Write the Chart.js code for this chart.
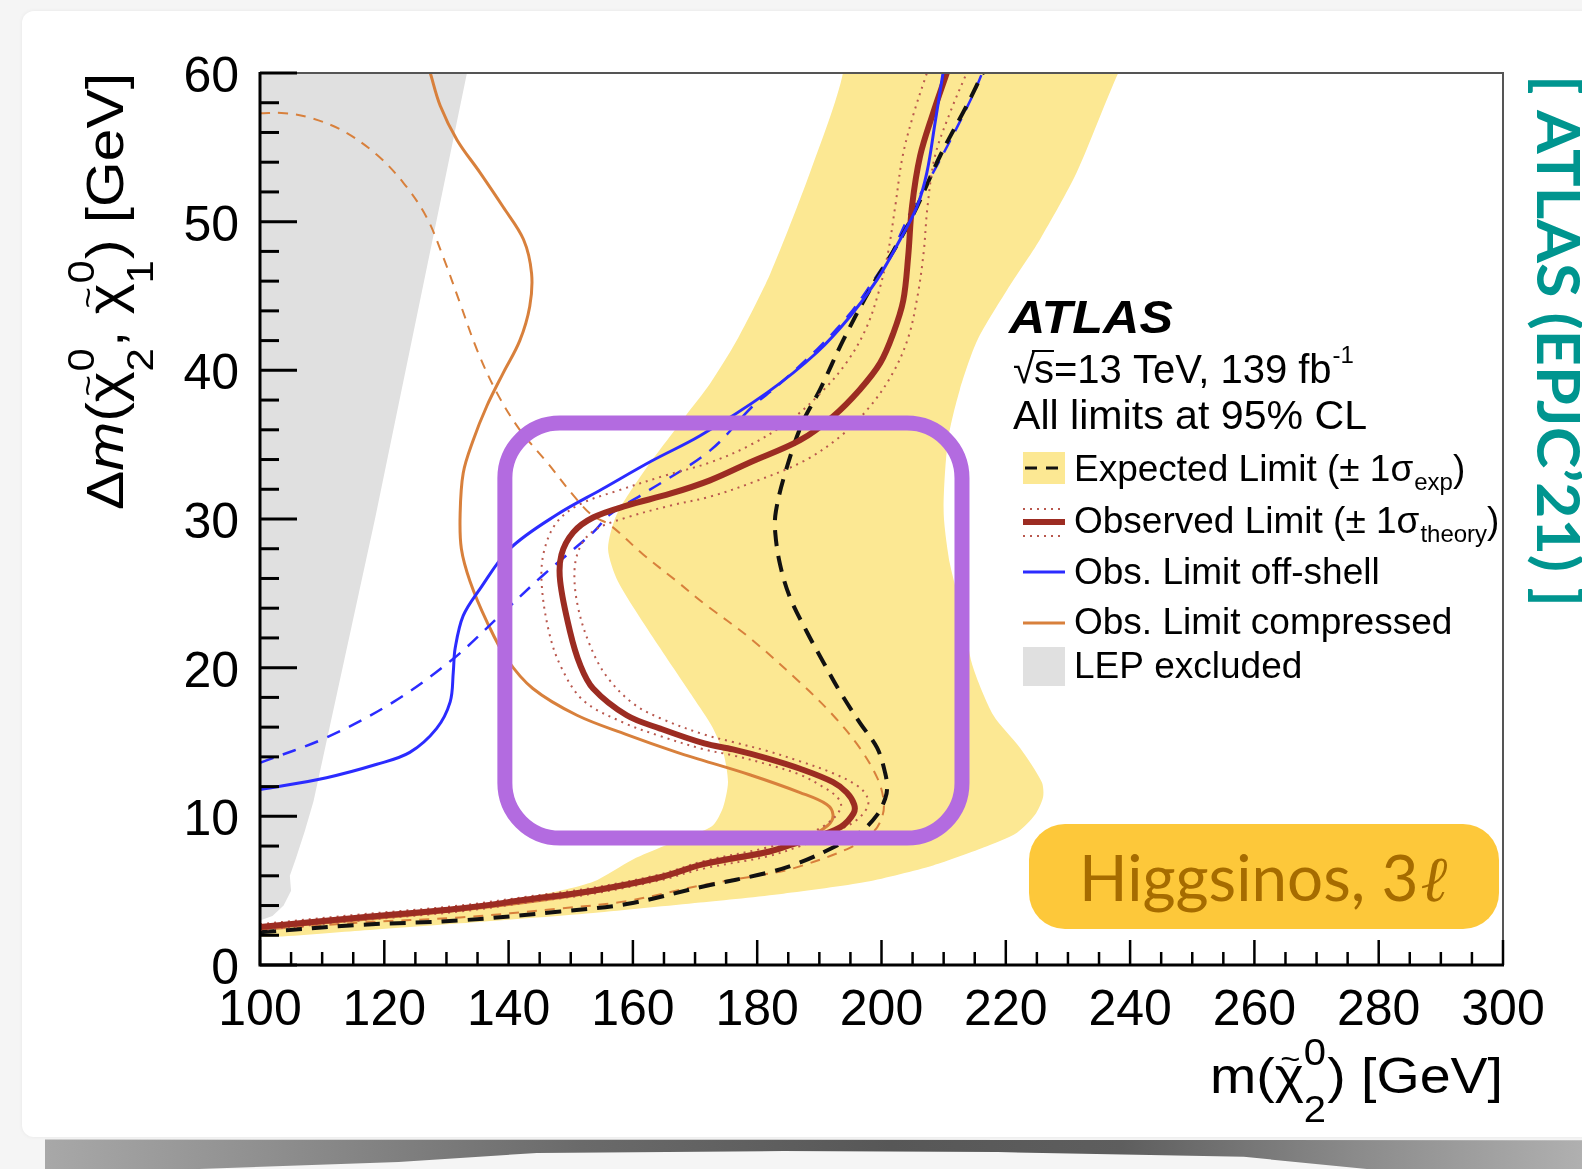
<!DOCTYPE html>
<html><head><meta charset="utf-8">
<script src="https://cdn.jsdelivr.net/npm/chart.js@4.4.1/dist/chart.umd.min.js"></script>
<style>
html,body{margin:0;padding:0;}
body{width:1582px;height:1169px;overflow:hidden;background:#f5f5f5;position:relative;}
#card{position:absolute;left:22px;top:11px;width:1562px;height:1126px;background:#fff;border-radius:12px 0 0 12px;box-shadow:0 0 4px rgba(0,0,0,0.06);}
#shade{position:absolute;left:45px;top:1137px;width:1537px;height:32px;
 background:linear-gradient(to right,#a8a8a8 0%,#8e8e8e 15%,#6a6a6a 35%,#575757 55%,#5e5e5e 70%,#8a8a8a 85%,#b0b0b0 100%);
 clip-path:polygon(0 8%,100% 10%,100% 100%,86% 100%,78% 62%,62% 47%,48% 44%,32% 50%,23% 78%,10% 100%,0 100%);filter:blur(0.7px);}
#c{position:absolute;left:0;top:0;}
</style></head><body>
<div id="card"></div><div id="shade"></div>
<canvas id="c" width="1582" height="1169"></canvas>
<script>
// ---------- data ----------
const xTicks = [100,120,140,160,180,200,220,240,260,280,300];
const yTicks = [0,10,20,30,40,50,60];

// LEP excluded region (polygon)
const lepX = [100,133.3,118.5,108.6,107.2,105.8,104.8,105.0,103.8,102.0,100.0];
const lepY = [60,60,30,11.0,9.0,7.2,6.0,5.0,4.0,3.3,3.0];

// Expected +-1 sigma band (closed polygon)
const bandX = [192.0,193.8,188.5,182.1,176.7,172.4,168.4,161.6,157.4,156.0,157.6,164.4,169.7,172.8,174.6,175.3,174.5,172.9,170.0,165.0,160.0,153.6,145.0,135.0,120.0,100.0,
               100.0,116.0,132.2,153.6,170.8,184.2,197.6,208.3,216.4,221.8,224.7,226.0,225.8,222.3,218.0,214.6,213.1,211.0,210.0,210.7,212.6,215.4,220.2,225.5,231.4,238.1,240.0];
const bandY = [61.0,60.0,53.3,46.5,42.0,39.1,36.9,33.1,30.3,28.0,25.8,21.3,18.0,16.0,14.2,12.3,10.6,9.4,8.8,8.0,7.1,5.6,4.7,4.0,3.3,2.6,
               1.9,2.3,2.8,3.5,4.2,4.8,5.6,6.7,7.9,8.9,10.1,11.3,12.3,14.6,16.8,20.2,23.5,27.0,30.5,35.3,38.7,42.0,45.4,48.8,53.3,60.0,61.0];

// Expected limit (black dashed)
const expX = [100,116.1,132.2,148.3,159.0,171.5,181.6,186.9,192.2,196.5,199.3,200.6,200.9,200.6,199.3,196.5,193.3,190.6,188.0,185.3,183.7,182.9,183.0,184.5,187.2,190.1,193.8,198.1,203.0,205.7,209.4,213.7,216.3];
const expY = [2.2,2.7,3.0,3.6,4.1,5.3,6.2,6.9,7.9,8.9,10.1,11.2,11.9,12.9,14.6,16.3,18.4,20.4,22.4,24.7,26.9,29.1,30.5,33.1,36.4,38.7,42.0,45.4,48.8,51.0,54.4,57.8,60.0];

// Observed limit (dark red)
const obsX = [100,116.1,132.2,143.0,153.6,164.4,171.5,181.6,185.5,190.0,193.5,195.5,195.6,194.4,192.2,186.9,181.6,176.1,171.5,164.4,159.0,153.6,151.5,149.9,148.3,148.5,150.4,153.6,159.0,166.0,172.4,178.8,186.9,192.2,196.5,199.8,201.9,203.5,204.3,204.9,206.2,208.3,210.5];
const obsY = [2.55,3.2,3.8,4.4,5.0,5.9,6.8,7.6,8.1,8.7,9.3,10.2,10.8,11.6,12.3,13.2,13.9,14.5,14.9,15.9,16.8,18.6,20.2,22.4,25.8,27.6,29.1,30.1,30.9,31.7,32.6,33.8,35.3,36.9,38.7,40.5,42.5,44.7,47.7,51.0,54.4,57.3,60.0];

// Observed +-1 sigma theory (dotted)
const obsInX = [100,116.1,132.2,143.0,153.6,164.4,171.5,181.6,186.9,190.5,192.8,193.5,192.6,190.5,186.9,181.6,176.1,171.5,164.4,158.5,152.0,148.5,146.5,145.3,145.8,147.8,151.5,157.5,165.0,172.4,179.0,185.5,190.5,194.5,197.5,199.5,201.0,202.2,203.4,205.2,207.3];
const obsInY = [2.75,3.4,4.0,4.6,5.2,6.1,7.0,7.9,8.6,9.3,10.1,10.8,11.4,12.0,12.8,13.5,14.1,14.5,15.4,16.3,17.8,20.0,22.4,25.8,28.0,29.8,31.0,31.9,32.9,33.8,35.0,36.7,38.6,40.6,42.8,45.2,47.8,51.0,54.4,57.3,60.0];
const obsOutX = [100,116.1,132.2,143.0,153.6,164.4,171.5,181.6,186.9,191.5,195.5,197.6,197.8,196.3,192.2,186.9,181.6,176.1,171.5,164.4,160.0,155.8,153.2,151.2,150.6,151.6,154.0,159.0,166.0,172.4,179.5,187.5,193.5,198.2,201.8,204.3,205.8,206.8,207.4,208.6,211.0,213.7];
const obsOutY = [2.35,3.0,3.6,4.2,4.8,5.7,6.5,7.3,8.0,8.8,9.6,10.5,11.2,12.0,12.9,13.7,14.4,15.0,15.5,16.6,17.6,19.4,21.4,24.0,26.5,28.2,29.3,30.1,30.9,31.5,32.5,33.9,35.6,37.6,39.8,42.2,45.0,48.0,51.0,54.4,57.3,60.0];

// Obs. limit off-shell (blue solid) and its expected (blue dashed)
const offX = [100,110.7,118.8,124.1,128.4,130.6,131.1,131.4,132.7,135.4,140.2,147.8,155.0,163.0,170.8,181.6,189.6,194.9,199.3,203.0,205.7,207.3,208.6,209.9];
const offY = [11.8,12.6,13.5,14.3,15.9,17.7,19.7,21.3,23.5,25.3,28.0,30.3,32.0,33.9,35.6,38.5,41.2,43.6,46.1,48.8,51.0,53.3,56.6,60.0];
const offExpX = [100,110.7,121.5,131.1,138.6,145.5,153.6,156.3,161.7,172.4,179.3,183.1,189.6,194.9,199.3,201.4,205.1,208.3,211.6,214.8,216.2];
const offExpY = [13.6,15.3,17.7,20.6,23.5,26.2,29.1,30.3,31.7,34.6,37.6,38.9,41.4,43.8,46.4,47.7,51.0,53.3,55.9,58.6,60.0];

// Obs. limit compressed (orange solid) and its expected (orange dashed)
const compX = [127.4,129.0,131.7,135.4,139.1,142.4,143.7,143.4,141.8,139.1,136.5,134.3,132.7,132.2,132.4,133.8,136.5,139.7,143.9,151.0,159.0,167.1,171.0,178.8,186.9,191.2,192.2,191.4,187.0,181.6,171.5,153.6,132.2,100.0];
const compY = [60.0,57.8,55.5,53.3,51.0,48.8,46.5,44.3,42.0,39.8,37.6,35.3,33.1,30.3,28.0,25.8,23.1,20.6,18.6,16.8,15.5,14.3,13.8,12.8,11.6,10.8,10.1,9.4,8.3,7.5,6.7,4.9,3.7,2.45];
const compExpX = [100,104.0,108.0,113.4,118.8,123.1,126.8,129.5,132.2,134.9,138.1,141.8,146.2,151.0,153.6,156.3,161.7,167.1,171.5,178.8,186.9,192.2,196.5,199.3,200.3,200.2,198.8,195.0,185.8,180.5,171.5,159.0,148.3,132.2,116.1,100.0];
const compExpY = [57.3,57.3,57.0,56.1,54.5,52.6,50.3,47.6,44.5,41.4,38.5,36.0,33.8,31.3,30.2,29.6,27.6,25.8,24.3,22.0,19.0,16.8,14.6,12.6,11.2,10.1,9.0,7.9,6.5,6.05,5.4,4.3,3.8,3.2,2.85,2.35];

// Highlight box (data-space corners)
const boxX = [139.4, 212.95];
const boxY = [8.54, 36.45];

// ---------- helpers ----------
const pts = (xs, ys) => xs.map((x, i) => ({x: x, y: ys[i]}));
const LS = '"Liberation Sans", Arial, Helvetica, sans-serif';
const C = {
  band: '#fce893', lep: '#e0e0e0', red: '#9c2c22', redDot: '#b9584e',
  blue: '#2b2bff', orange: '#d8803c', black: '#111', purple: '#b36be0'
};

function line(label, data, color, width, dash, order, tension) {
  return {label, data, borderColor: color, borderWidth: width, borderDash: dash || [],
    pointRadius: 0, fill: false, order, tension: tension === undefined ? 0.35 : tension,
    borderCapStyle: 'butt', borderJoinStyle: 'round'};
}

function drawRich(ctx, parts, F, x, y, measureOnly) {
  let cx = x;
  for (const p of parts) {
    if (p.sup !== undefined) {
      ctx.font = `${Math.round(F * 0.72)}px ${LS}`;
      const w1 = ctx.measureText(p.sup).width, w2 = ctx.measureText(p.sub).width;
      if (!measureOnly) { ctx.fillText(p.sup, cx, y - F * 0.56); ctx.fillText(p.sub, cx, y + F * 0.58); }
      cx += Math.max(w1, w2) + F * 0.02;
    } else {
      ctx.font = (p.style ? p.style + ' ' : '') + `${F}px ${LS}`;
      const w = ctx.measureText(p.t).width;
      if (!measureOnly) {
        ctx.fillText(p.t, cx, y);
        if (p.tilde) {
          ctx.font = `${Math.round(F * 0.62)}px ${LS}`;
          const tw = ctx.measureText('~').width;
          ctx.fillText('~', cx + (w - tw) / 2 + F * 0.02, y - F * 0.47);
        }
      }
      cx += w;
    }
  }
  return cx - x;
}

function fitText(ctx, text, font, x, y, width) {
  ctx.font = font;
  const w = ctx.measureText(text).width;
  ctx.save(); ctx.translate(x, y); ctx.scale(width / w, 1); ctx.fillText(text, 0, 0); ctx.restore();
}

const decor = {
  id: 'decor',
  afterDatasetsDraw(chart) {
    const ctx = chart.ctx, a = chart.chartArea, xs = chart.scales.x, ys = chart.scales.y;
    ctx.save();
    ctx.strokeStyle = '#555'; ctx.lineWidth = 2;
    ctx.beginPath(); ctx.moveTo(a.left, a.top); ctx.lineTo(a.right, a.top); ctx.lineTo(a.right, a.bottom); ctx.stroke();
    ctx.strokeStyle = '#000'; ctx.lineWidth = 3;
    ctx.beginPath(); ctx.moveTo(a.left, a.top - 1); ctx.lineTo(a.left, a.bottom); ctx.lineTo(a.right + 1, a.bottom); ctx.stroke();
    ctx.lineWidth = 3;
    for (let v = 0; v <= 60; v += 2) {
      const py = ys.getPixelForValue(v), len = (v % 10 === 0) ? 37 : 19;
      ctx.beginPath(); ctx.moveTo(a.left, py); ctx.lineTo(a.left + len, py); ctx.stroke();
    }
    ctx.lineWidth = 2.5;
    for (let v = 100; v <= 300; v += 5) {
      const px = xs.getPixelForValue(v), len = (v % 20 === 0) ? 25 : 13;
      ctx.beginPath(); ctx.moveTo(px, a.bottom); ctx.lineTo(px, a.bottom - len); ctx.stroke();
    }
    ctx.restore();
  },
  afterDraw(chart) {
    const ctx = chart.ctx, a = chart.chartArea, xs = chart.scales.x, ys = chart.scales.y;
    ctx.save();
    ctx.fillStyle = '#000'; ctx.textBaseline = 'alphabetic';
    ctx.font = `50px ${LS}`; ctx.textAlign = 'center';
    xTicks.forEach(v => ctx.fillText(String(v), xs.getPixelForValue(v), a.bottom + 60));
    ctx.textAlign = 'right';
    yTicks.forEach(v => ctx.fillText(String(v), a.left - 21, ys.getPixelForValue(v) + 19));
    ctx.textAlign = 'left';

    // x title
    const F = 50;
    const xParts = [{t: 'm('}, {t: 'χ', tilde: true}, {sup: '0', sub: '2'}, {t: ') [GeV]'}];
    let w = drawRich(ctx, xParts, F, 0, 0, true);
    ctx.save(); ctx.translate(a.right, a.bottom + 128); ctx.scale(293 / w, 1);
    drawRich(ctx, xParts, F, -w, 0, false); ctx.restore();

    // y title
    const FY = 52;
    const yParts = [{t: 'Δ'}, {t: 'm', style: 'italic'}, {t: '('}, {t: 'χ', tilde: true}, {sup: '0', sub: '2'}, {t: ', '},
                    {t: 'χ', tilde: true}, {sup: '0', sub: '1'}, {t: ') [GeV]'}];
    w = drawRich(ctx, yParts, FY, 0, 0, true);
    ctx.save(); ctx.translate(123, 510); ctx.rotate(-Math.PI / 2); ctx.scale(437 / w, 1);
    drawRich(ctx, yParts, FY, 0, 0, false); ctx.restore();

    // legend block
    fitText(ctx, 'ATLAS', `italic bold 47px ${LS}`, 1009, 333, 164);
    ctx.font = `40px ${LS}`;
    let x = 1013; ctx.fillText('√', x, 383); const wr = ctx.measureText('√').width;
    x += wr - 1; ctx.fillText('s', x, 383); const wsq = ctx.measureText('s').width;
    ctx.strokeStyle = '#000'; ctx.lineWidth = 2;
    ctx.beginPath(); ctx.moveTo(x - 2, 351); ctx.lineTo(x + wsq, 351); ctx.stroke();
    x += wsq; const t1 = '=13 TeV, 139 fb'; ctx.fillText(t1, x, 383); x += ctx.measureText(t1).width;
    ctx.font = `24px ${LS}`; ctx.fillText('-1', x + 1, 363);
    fitText(ctx, 'All limits at 95% CL', `40px ${LS}`, 1013, 429, 354);

    const sx0 = 1023, sx1 = 1065, tx = 1074, FE = 37;
    ctx.fillStyle = C.band; ctx.fillRect(sx0, 452, sx1 - sx0, 32);
    ctx.strokeStyle = C.black; ctx.lineWidth = 3; ctx.setLineDash([12, 9]);
    ctx.beginPath(); ctx.moveTo(sx0 + 2, 468); ctx.lineTo(sx1, 468); ctx.stroke();
    ctx.strokeStyle = C.redDot; ctx.lineWidth = 2; ctx.setLineDash([2, 5]);
    ctx.beginPath(); ctx.moveTo(sx0, 509); ctx.lineTo(sx1, 509); ctx.moveTo(sx0, 536); ctx.lineTo(sx1, 536); ctx.stroke();
    ctx.setLineDash([]);
    ctx.strokeStyle = C.red; ctx.lineWidth = 6;
    ctx.beginPath(); ctx.moveTo(sx0, 522); ctx.lineTo(sx1, 522); ctx.stroke();
    ctx.strokeStyle = C.blue; ctx.lineWidth = 3;
    ctx.beginPath(); ctx.moveTo(sx0, 572); ctx.lineTo(sx1, 572); ctx.stroke();
    ctx.strokeStyle = C.orange; ctx.lineWidth = 3;
    ctx.beginPath(); ctx.moveTo(sx0, 623); ctx.lineTo(sx1, 623); ctx.stroke();
    ctx.fillStyle = C.lep; ctx.fillRect(sx0, 647, sx1 - sx0, 39);

    ctx.fillStyle = '#000';
    const entry = (main, sub, y) => {
      ctx.font = `${FE}px ${LS}`; ctx.fillText(main, tx, y); let xx = tx + ctx.measureText(main).width;
      if (sub) {
        ctx.font = `24px ${LS}`; ctx.fillText(sub, xx + 1, y + 9); xx += ctx.measureText(sub).width + 1;
        ctx.font = `${FE}px ${LS}`; ctx.fillText(')', xx, y);
      }
    };
    entry('Expected Limit (± 1σ', 'exp', 481);
    entry('Observed Limit (± 1σ', 'theory', 533);
    entry('Obs. Limit off-shell', null, 584);
    entry('Obs. Limit compressed', null, 634);
    entry('LEP excluded', null, 678);

    // highlight box
    const bl = xs.getPixelForValue(boxX[0]), br = xs.getPixelForValue(boxX[1]);
    const bt = ys.getPixelForValue(boxY[1]), bb = ys.getPixelForValue(boxY[0]);
    ctx.strokeStyle = C.purple; ctx.lineWidth = 15;
    ctx.beginPath(); ctx.roundRect(bl, bt, br - bl, bb - bt, 55); ctx.stroke();

    // Higgsinos label
    ctx.fillStyle = '#fdc83a';
    ctx.beginPath(); ctx.roundRect(1029, 824, 470, 105, 36); ctx.fill();
    ctx.fillStyle = '#a66c00';
    ctx.font = '64px Lato, "Open Sans", sans-serif';
    const hs = 'Higgsinos, 3'; const hw = ctx.measureText(hs).width;
    ctx.font = 'italic 64px "DejaVu Serif", serif'; const lw = ctx.measureText('ℓ').width;
    const hsx = 366 / (hw + lw);
    ctx.save(); ctx.translate(1079, 901); ctx.scale(hsx, 1);
    ctx.font = '64px Lato, "Open Sans", sans-serif'; ctx.fillText(hs, 0, 0);
    ctx.font = 'italic 64px "DejaVu Serif", serif'; ctx.fillText('ℓ', hw + 2, 0);
    ctx.restore();

    // side reference
    ctx.fillStyle = '#00958f';
    ctx.font = 'bold 60px Lato, "Open Sans", sans-serif';
    const ref = '[ ATLAS (EPJC’21) ]'; const rw = ctx.measureText(ref).width;
    ctx.save(); ctx.translate(1537, 75); ctx.rotate(Math.PI / 2); ctx.scale(532 / rw, 1);
    ctx.fillText(ref, 0, 0); ctx.restore();

    ctx.restore();
  }
};

const datasets = [
  Object.assign(line('LEP excluded', pts(lepX, lepY), 'rgba(0,0,0,0)', 0, null, 20, 0), {fill: 'shape', backgroundColor: C.lep}),
  Object.assign(line('Expected band', pts(bandX, bandY), 'rgba(0,0,0,0)', 0, null, 19, 0.25), {fill: 'shape', backgroundColor: C.band}),
  line('Obs. Limit compressed', pts(compX, compY), C.orange, 3, null, 9),
  line('Exp. compressed', pts(compExpX, compExpY), C.orange, 2, [10, 8], 8),
  line('Exp. off-shell', pts(offExpX, offExpY), C.blue, 2.5, [14, 10], 7),
  line('Expected Limit', pts(expX, expY), C.black, 4, [16, 10], 6),
  line('Obs +1 theory', pts(obsInX, obsInY), C.redDot, 2, [2, 5], 5),
  line('Obs -1 theory', pts(obsOutX, obsOutY), C.redDot, 2, [2, 5], 4),
  line('Observed Limit', pts(obsX, obsY), C.red, 6, null, 3),
  line('Obs. Limit off-shell', pts(offX, offY), C.blue, 3, null, 2)
];

new Chart(document.getElementById('c'), {
  type: 'line',
  data: {datasets},
  options: {
    responsive: false, animation: false, devicePixelRatio: 1, events: [],
    layout: {padding: {top: 73, right: 79, left: 0, bottom: 0}},
    plugins: {legend: {display: false}, tooltip: {enabled: false}},
    scales: {
      x: {type: 'linear', min: 100, max: 300, grid: {display: false, drawTicks: false}, border: {display: false},
          ticks: {display: false, stepSize: 20}, afterFit(s) { s.height = 204; }},
      y: {type: 'linear', min: 0, max: 60, grid: {display: false, drawTicks: false}, border: {display: false},
          ticks: {display: false, stepSize: 10}, afterFit(s) { s.width = 260; }}
    }
  },
  plugins: [decor]
});
</script>
</body></html>
